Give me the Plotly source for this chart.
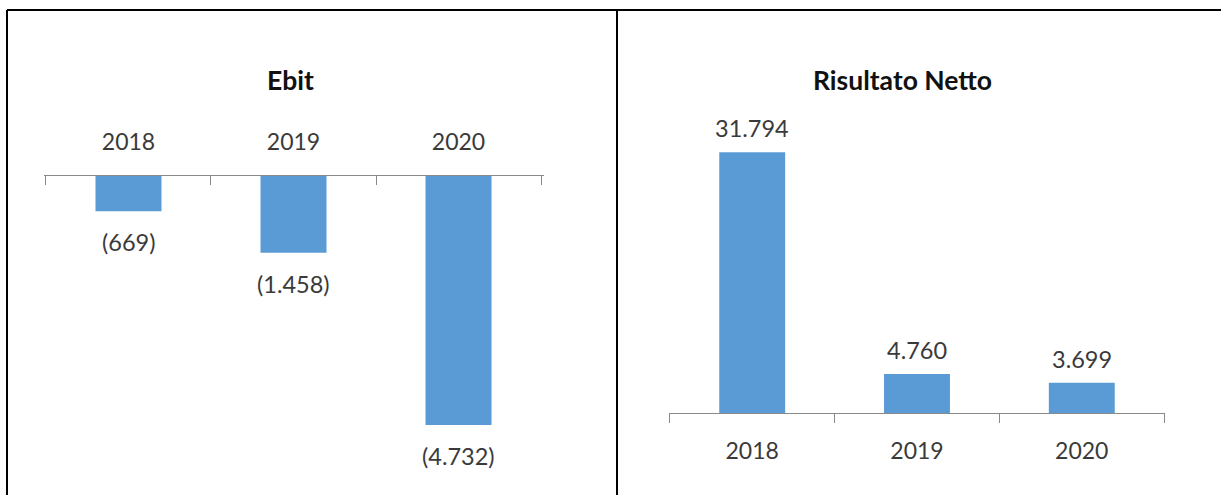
import plotly.graph_objects as go

years = ["2018", "2019", "2020"]
ebit = [-669, -1458, -4732]
netto = [31794, 4760, 3699]
titles = ["Ebit", "Risultato Netto"]

W, H = 1221, 495
BAR = "#5B9BD5"
AXIS = "#898989"
TXT = "#3a3a3a"
FONT = "Lato"


def px_x(p):
    return p / W


def px_y(p):
    return 1 - p / H


def fmt(v):
    s = f"{abs(v):,}".replace(",", ".")
    return f"({s})" if v < 0 else s


fig = go.Figure()
fig.add_trace(go.Bar(x=years, y=ebit, marker=dict(color=BAR, line=dict(width=0)),
                     xaxis="x", yaxis="y", hoverinfo="skip"))
fig.add_trace(go.Bar(x=years, y=netto, marker=dict(color=BAR, line=dict(width=0)),
                     xaxis="x2", yaxis="y2", hoverinfo="skip"))

annotations = []
for i, v in enumerate(ebit):
    annotations.append(dict(x=i, y=v, xref="x", yref="y", text=fmt(v), showarrow=False,
                            xanchor="center", yanchor="middle", yshift=-31,
                            font=dict(family=FONT, size=23.5, color=TXT)))
for i, v in enumerate(netto):
    annotations.append(dict(x=i, y=v, xref="x2", yref="y2", text=fmt(v), showarrow=False,
                            xanchor="center", yanchor="middle", yshift=24,
                            font=dict(family=FONT, size=23.5, color=TXT)))
# chart titles
annotations.append(dict(x=px_x(290), y=px_y(80), xref="paper", yref="paper", text="<b>" + titles[0] + "</b>",
                        showarrow=False, xanchor="center", yanchor="middle",
                        font=dict(family=FONT, size=26.5, color="#111111")))
annotations.append(dict(x=px_x(902), y=px_y(80), xref="paper", yref="paper", text="<b>" + titles[1] + "</b>",
                        showarrow=False, xanchor="center", yanchor="middle",
                        font=dict(family=FONT, size=26.5, color="#111111")))

shapes = [
    dict(type="line", xref="paper", yref="paper", x0=px_x(7), x1=1, y0=px_y(10), y1=px_y(10),
         line=dict(color="black", width=2)),
    dict(type="line", xref="paper", yref="paper", x0=px_x(7), x1=px_x(7), y0=0, y1=px_y(10),
         line=dict(color="black", width=2)),
    dict(type="line", xref="paper", yref="paper", x0=px_x(617), x1=px_x(617), y0=0, y1=px_y(10),
         line=dict(color="black", width=2)),
]

xcommon = dict(type="category", showgrid=False, zeroline=False, showline=True, linecolor=AXIS, linewidth=1,
               tickson="boundaries", ticklen=9, tickcolor=AXIS, tickwidth=1,
               tickfont=dict(family=FONT, size=23, color=TXT), fixedrange=True)
ycommon = dict(showgrid=False, zeroline=False, showline=False, showticklabels=False, ticks="",
               fixedrange=True)

fig.update_layout(
    width=W, height=H,
    margin=dict(l=0, r=0, t=0, b=0),
    paper_bgcolor="white", plot_bgcolor="white",
    showlegend=False, bargap=0.6,
    xaxis=dict(**xcommon, ticks="inside", side="top", anchor="y", range=[-0.515, 2.515],
               domain=[px_x(43.5), px_x(543.5)], ticklabelstandoff=16),
    yaxis=dict(**ycommon, domain=[px_y(439), px_y(176)], range=[-5000, 0], anchor="x"),
    xaxis2=dict(**xcommon, ticks="outside", side="bottom", anchor="y2", range=[-0.505, 2.505],
                domain=[px_x(669), px_x(1165)], ticklabelstandoff=17),
    yaxis2=dict(**ycommon, domain=[px_y(413), px_y(126)], range=[0, 35000], anchor="x2"),
    annotations=annotations,
    shapes=shapes,
)

fig.write_html("out.html", config={"displayModeBar": False},
               post_script="document.body.style.margin='0';document.body.style.overflow='hidden';")
